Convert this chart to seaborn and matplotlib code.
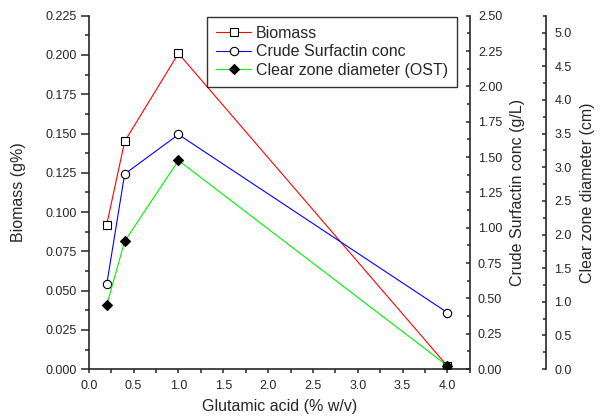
import matplotlib
matplotlib.use("Agg")
import matplotlib.pyplot as plt
from matplotlib.ticker import MultipleLocator, FormatStrFormatter, FixedLocator
import seaborn as sns
import pandas as pd

# Glutamic acid concentration (% w/v)
glutamic = [0.2, 0.4, 1.0, 4.0]
biomass = [0.092, 0.145, 0.201, 0.002]          # g%
surfactin = [0.60, 1.38, 1.66, 0.40]            # g/L
clear_zone = [0.95, 1.90, 3.10, 0.05]           # cm

sns.set_style("ticks")
plt.rcParams["font.family"] = ["Liberation Sans", "DejaVu Sans"]

df = pd.DataFrame({"x": glutamic, "biomass": biomass,
                   "surfactin": surfactin, "clear": clear_zone})

fig = plt.figure(figsize=(6.0, 4.19), dpi=100)
ax = fig.add_axes([0.148, 0.119, 0.635, 0.8435])
ax2 = ax.twinx()
ax3 = ax.twinx()
ax3.spines["right"].set_position(("axes", 1.201))

sns.lineplot(data=df, x="x", y="biomass", ax=ax, color="red", lw=0.8,
             marker="s", markersize=5.3, markerfacecolor="white",
             markeredgecolor="black", markeredgewidth=0.8,
             label="Biomass", legend=False)
sns.lineplot(data=df, x="x", y="surfactin", ax=ax2, color="blue", lw=0.8,
             marker="o", markersize=6.0, markerfacecolor="white",
             markeredgecolor="black", markeredgewidth=0.8,
             label="Crude Surfactin conc", legend=False)
sns.lineplot(data=df, x="x", y="clear", ax=ax3, color="#00f000", lw=0.8,
             marker="D", markersize=5.4, markerfacecolor="black",
             markeredgecolor="black", markeredgewidth=0.8,
             label="Clear zone diameter (OST)", legend=False)

ax.set_xlim(0, 4.25)
ax.set_ylim(0, 0.225)
ax2.set_ylim(0, 2.5)
ax3.set_ylim(0, 5.25)

ax.xaxis.set_major_locator(MultipleLocator(0.5))
ax.xaxis.set_minor_locator(MultipleLocator(0.25))
ax.xaxis.set_major_formatter(FormatStrFormatter("%.1f"))
ax.yaxis.set_major_locator(MultipleLocator(0.025))
ax.yaxis.set_minor_locator(MultipleLocator(0.0125))
ax.yaxis.set_major_formatter(FormatStrFormatter("%.3f"))
ax2.yaxis.set_major_locator(MultipleLocator(0.25))
ax2.yaxis.set_minor_locator(MultipleLocator(0.125))
ax2.yaxis.set_major_formatter(FormatStrFormatter("%.2f"))
ax3.yaxis.set_major_locator(FixedLocator([i * 0.5 for i in range(11)]))
ax3.yaxis.set_minor_locator(FixedLocator([0.25 + i * 0.5 for i in range(11)]))
ax3.yaxis.set_major_formatter(FormatStrFormatter("%.1f"))

for a in (ax, ax2, ax3):
    a.spines["top"].set_visible(False)
ax.spines["right"].set_visible(False)
for a in (ax2, ax3):
    a.spines["left"].set_visible(False)
    a.spines["bottom"].set_visible(False)
for sp in (ax.spines["left"], ax.spines["bottom"],
           ax2.spines["right"], ax3.spines["right"]):
    sp.set_linewidth(1.2)

ax.tick_params(axis="y", which="major", length=5.5, width=1.1, direction="out",
               pad=3, labelsize=9)
ax.tick_params(axis="y", which="minor", length=3, width=1.1, direction="out")
ax.tick_params(axis="x", which="major", length=3, width=1.1, direction="out",
               pad=4.5, labelsize=9)
ax.tick_params(axis="x", which="minor", length=3, width=1.1, direction="out")
for a in (ax2, ax3):
    a.tick_params(axis="y", which="major", length=3, width=1.1, direction="in",
                  pad=5.8, labelsize=9)
    a.tick_params(axis="y", which="minor", length=2, width=1.1, direction="in")

ax.set_xlabel("Glutamic acid (% w/v)", fontsize=11.5, labelpad=5)
ax.set_ylabel("Biomass (g%)", fontsize=11.5, labelpad=14)
ax2.set_ylabel("Crude Surfactin conc (g/L)", fontsize=11.5, labelpad=5.5)
ax3.set_ylabel("Clear zone diameter (cm)", fontsize=11.5, labelpad=6)

handles = []
labels = []
for a in (ax, ax2, ax3):
    h, l = a.get_legend_handles_labels()
    handles += h
    labels += l
leg = ax3.legend(handles, labels, loc="upper right", bbox_to_anchor=(0.966, 0.996),
                 fontsize=11.5, frameon=True, fancybox=False, edgecolor="black",
                 borderpad=0.55, labelspacing=0.22, handlelength=2.2,
                 handletextpad=0.3, borderaxespad=0.0)
leg.get_frame().set_linewidth(1.0)

fig.savefig("out.png", dpi=100)
